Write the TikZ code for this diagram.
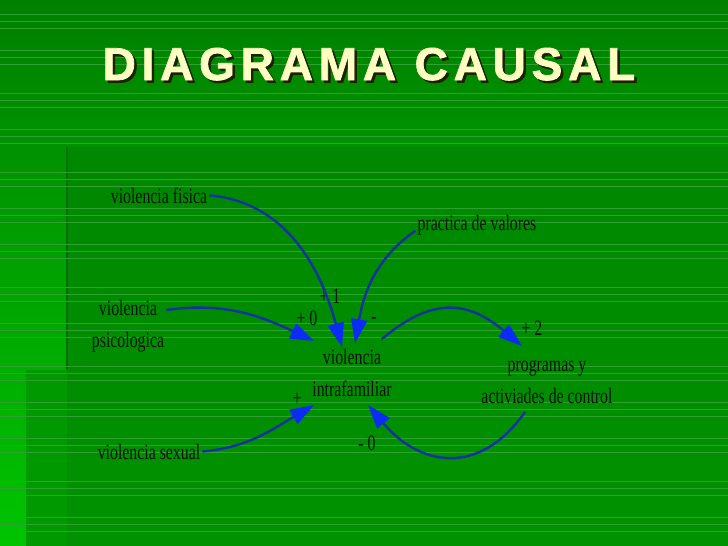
\documentclass[tikz,border=0pt]{standalone}
\usepackage{fontspec}
\setmainfont{Liberation Serif}[FakeStretch=0.72]
\newfontfamily\titlefont[LetterSpace=12.6, FakeBold=1.6]{Liberation Sans Bold}
\usetikzlibrary{arrows.meta}

\definecolor{bgtop}{HTML}{008000}
\definecolor{bgleft}{HTML}{00C400}
\definecolor{bgmain}{HTML}{008800}
\definecolor{bgmainlow}{HTML}{009200}
\definecolor{bgmid}{HTML}{009A00}
\definecolor{bgrule}{HTML}{006E00}
\definecolor{stripe}{HTML}{30A030}
\definecolor{titletext}{HTML}{FFFFC4}
\definecolor{titleshadow}{HTML}{1C2200}
\definecolor{vartext}{HTML}{081408}
\definecolor{linkblue}{HTML}{1432A0}
\definecolor{tipblue}{HTML}{0A2CF5}

\begin{document}
\begin{tikzpicture}[x=1pt, y=1pt,
var/.style={align=center, inner sep=2pt, text=vartext, font=\fontsize{22}{32}\selectfont},
sign/.style={anchor=base, inner sep=0pt, text=vartext, font=\fontsize{22}{26}\selectfont},
link/.style={draw=linkblue, line width=2.4pt, -{Triangle[length=24pt, width=16pt, color=tipblue]}},
headline/.style={anchor=base, inner sep=0pt, font=\titlefont\fontsize{46}{46}\selectfont}]
    % slide background
    \useasboundingbox (0,0) rectangle (728,-546);
    \shade[top color=bgtop, bottom color=bgleft] (0,0) rectangle (728,-546);
    \shade[top color=bgmain, bottom color=bgmainlow] (67,-147) rectangle (728,-546);
    \fill[bgmid] (26,-370) rectangle (67,-546);
    \draw[bgrule, line width=2pt] (67,-147) -- (67,-370);
    \foreach \y in {14,50,93,129,172,208,244,287,323,366,402,438,481,517}
        \foreach \d in {0,7,14}
            \draw[stripe, line width=0.8pt] (0,-\y-\d) -- (728,-\y-\d);

    % title
    \node[headline, text=titleshadow] (title shadow) at (371.5,-82.5) {DIAGRAMA CAUSAL};
    \node[headline, text=titletext] (title) at (369,-80) {DIAGRAMA CAUSAL};

    % variables
    \node[var, anchor=base] (fisica) at (159,-203) {violencia fisica};
    \node[var, anchor=base] (valores) at (477,-230) {practica de valores};
    \node[var] (psico) at (128,-326) {violencia\\psicologica};
    \node[var] (intra) at (352,-373) {violencia\\intrafamiliar};
    \node[var] (prog) at (547,-382) {programas y\\activiades de control};
    \node[var, anchor=base] (sexual) at (149,-459) {violencia sexual};

    % signs
    \node[sign] (s1) at (330,-303) {+ 1};
    \node[sign] (s0) at (307,-325) {+ 0};
    \node[sign] (sneg) at (374,-323) {-};
    \node[sign] (s2) at (532,-335) {+ 2};
    \node[sign] (splus) at (297,-405) {+};
    \node[sign] (sneg0) at (367,-450) {- 0};

    % links
    \draw[link] (fisica.east) to[out=-5, in=105] ([xshift=-10pt]intra.north);
    \draw[link] ([yshift=16pt]psico.east) to[out=8, in=155] ([shift={(4pt,6pt)}]intra.north west);
    \draw[link] ([yshift=-6pt]valores.west) to[out=215, in=80] ([shift={(3pt,4pt)}]intra.north);
    \draw[link] ([shift={(-12pt,8pt)}]intra.north east) to[out=40, in=140, looseness=1.25] ([shift={(-25pt,12pt)}]prog.north);
    \draw[link] (sexual.east) to[out=5, in=210] ([shift={(4pt,-6pt)}]intra.south west);
    \draw[link] ([shift={(-22pt,-6pt)}]prog.south) to[out=235, in=-50, looseness=1.3] ([shift={(16pt,-6pt)}]intra.south);
\end{tikzpicture}
\end{document}
